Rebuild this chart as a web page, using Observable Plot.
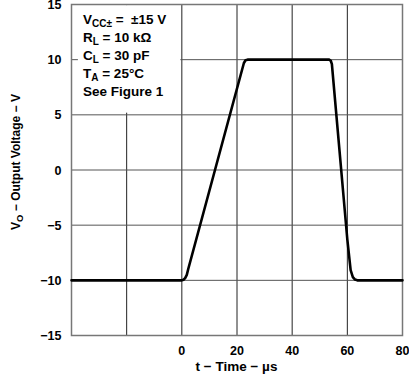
<!DOCTYPE html>
<html>
<head>
<meta charset="utf-8">
<script src="https://cdn.jsdelivr.net/npm/d3@7"></script>
<script src="https://cdn.jsdelivr.net/npm/@observablehq/plot@0.6"></script>
<style>
  html, body { margin: 0; padding: 0; background: #fff; }
  svg { display: block; }
</style>
</head>
<body>
<div id="chart"></div>
<script>
// ---- data ----
const timeUs = [-40, 0, 0.6, 1.2, 1.8, 2.3, 22.5, 23.1, 23.8, 53.4, 54.0, 54.4, 60.0, 61.2, 62.0, 62.8, 63.6, 80];
const voltV  = [-10, -10, -9.95, -9.8, -9.5, -9.0, 9.7, 9.95, 10, 10, 9.9, 9.6, -6.3, -9.07, -9.7, -9.93, -10, -10];
const xTicks = [0, 20, 40, 60, 80];
const xGrid  = [-20, 0, 20, 40, 60];
const yTicks = [-15, -10, -5, 0, 5, 10, 15];
const yGrid  = [-10, -5, 0, 5, 10];
const xDomain = [-40, 80];
const yDomain = [-15, 15];
// annotation lines: segments [text, isSubscript]
const noteLines = [
  [["V", false], ["CC\u00B1", true], [" =  \u00B115 V", false]],
  [["R", false], ["L", true], [" = 10 k\u03A9", false]],
  [["C", false], ["L", true], [" = 30 pF", false]],
  [["T", false], ["A", true], [" = 25\u00B0C", false]],
  [["See Figure 1", false]]
];
const noteBox = [{x1: -37.5, x2: -0.35, y1: 5.15, y2: 14.9}];
const yTitle = [["V", false], ["O", true], [" \u2212 Output Voltage \u2212 V", false]];
const xTitle = "t \u2212 Time \u2212 \u00B5s";

const curve = timeUs.map((t, i) => ({t, v: voltV[i]}));
const FONT = "'Liberation Sans', Arial, Helvetica, sans-serif";
const fmt = d => d < 0 ? "\u2212" + Math.abs(d) : String(d);

const plot = Plot.plot({
  width: 409,
  height: 375,
  marginLeft: 71,
  marginRight: 7,
  marginTop: 4,
  marginBottom: 40,
  style: {fontFamily: FONT, fontSize: "12px", fontWeight: "bold", color: "#000", background: "#fff", overflow: "visible"},
  x: {domain: xDomain},
  y: {domain: yDomain},
  marks: [
    Plot.ruleX(xGrid, {stroke: "#222", strokeWidth: 1}),
    Plot.ruleY(yGrid, {stroke: "#555", strokeWidth: 1}),
    Plot.rect(noteBox, {x1: "x1", x2: "x2", y1: "y1", y2: "y2", fill: "#fff"}),
    Plot.frame({stroke: "#777", strokeWidth: 1.5}),
    Plot.axisY({ticks: yTicks, tickSize: 0, tickPadding: 10, tickFormat: fmt, label: null, fontSize: 12.5, fontWeight: "bold", dy: 0.5}),
    Plot.axisX({ticks: xTicks, tickSize: 0, tickPadding: 11, tickFormat: fmt, label: null, fontSize: 12.5, fontWeight: "bold"}),
    Plot.line(curve, {x: "t", y: "v", stroke: "#000", strokeWidth: 2.6, strokeLinejoin: "round", strokeLinecap: "round"})
  ]
});

document.getElementById("chart").appendChild(plot);
const svg = d3.select(plot);

// annotation
const g = svg.append("g")
  .attr("font-family", FONT).attr("font-weight", "bold")
  .attr("font-size", 13.5).attr("fill", "#000")
  .attr("text-anchor", "start");

function addSegs(textSel, segs, subSize) {
  let shifted = false;
  segs.forEach(([txt, sub]) => {
    const ts = textSel.append("tspan").text(txt);
    if (sub) {
      ts.attr("font-size", subSize);
      if (!shifted) { ts.attr("dy", 3); shifted = true; }
    } else if (shifted) { ts.attr("dy", -3); shifted = false; }
  });
}

noteLines.forEach((segs, i) => {
  const t = g.append("text").attr("x", 83).attr("y", 23.5 + i * 18.15).attr("text-anchor", "start");
  addSegs(t, segs, 10);
});

// y title
const yt = g.append("text")
  .attr("transform", "translate(20,162) rotate(-90)")
  .attr("text-anchor", "middle")
  .attr("font-size", 12);
addSegs(yt, yTitle, 9.5);

// x title
g.append("text")
  .attr("x", 236.5).attr("y", 370.5)
  .attr("text-anchor", "middle")
  .attr("font-size", 13.5)
  .text(xTitle);
</script>
</body>
</html>
